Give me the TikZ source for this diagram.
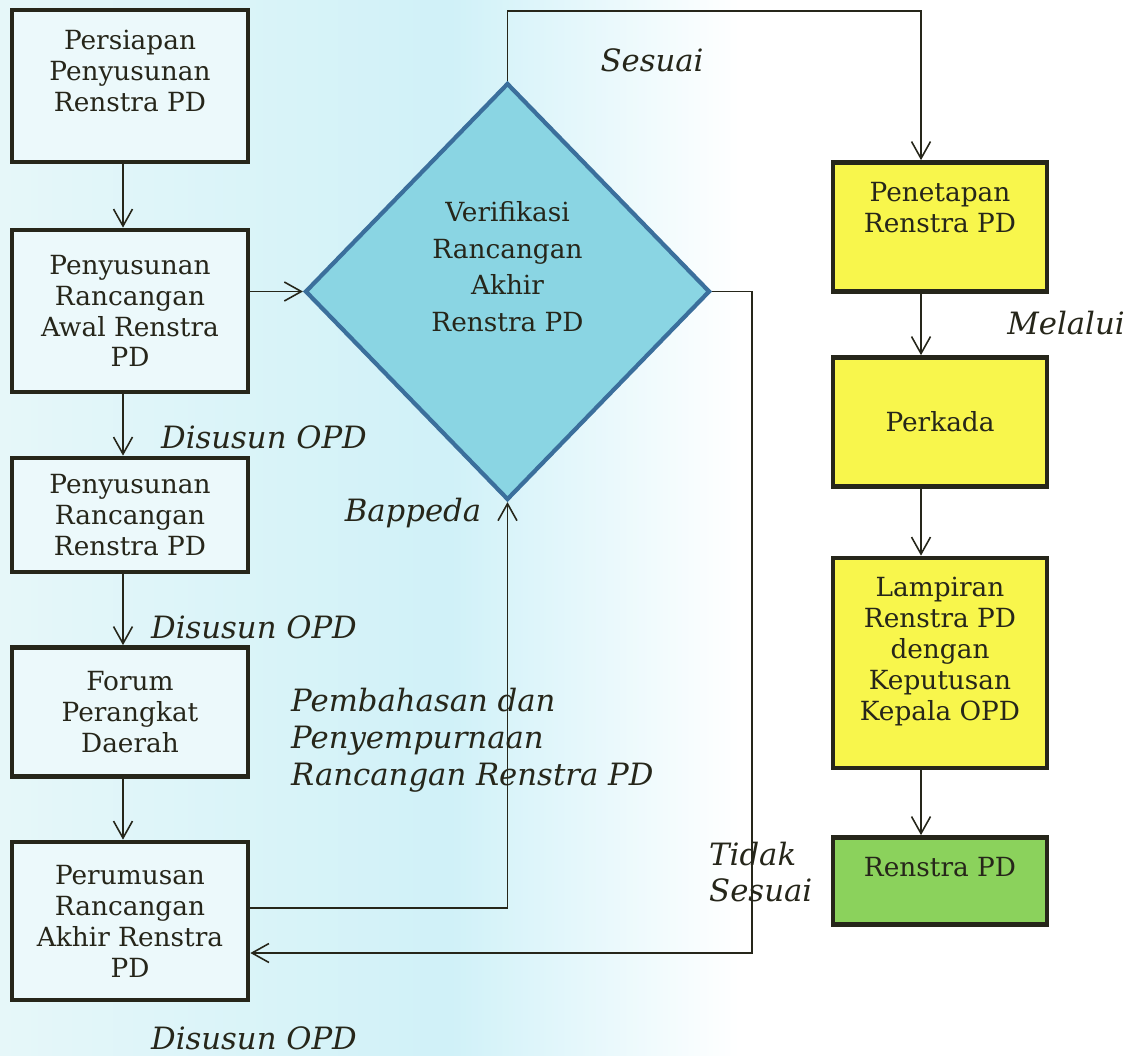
\documentclass[tikz,border=0pt]{standalone}
\usepackage{fontspec}
\setmainfont{DejaVu Serif}
\usetikzlibrary{shapes.geometric,arrows.meta}

\definecolor{ink}{HTML}{26261A}
\definecolor{bgL}{HTML}{E6F7F9}
\definecolor{bgM}{HTML}{D0F1F8}
\definecolor{boxfill}{HTML}{ECF9FB}
\definecolor{diafill}{HTML}{8AD5E3}
\definecolor{diadraw}{HTML}{3B6F9C}
\definecolor{kuning}{HTML}{F8F64C}
\definecolor{hijau}{HTML}{8BD25C}

\tikzset{
  box/.style={draw=ink, line width=2.7pt, fill=boxfill, text=ink, align=center,
    minimum width=4.72cm, inner sep=2pt, font=\fontsize{15}{17.6}\selectfont},
  rbox/.style={box, fill=kuning, minimum width=4.28cm},
  verif/.style={diamond, draw=diadraw, line width=2.4pt, fill=diafill, text=ink,
    align=center, inner sep=0pt, minimum width=8.1cm, minimum height=8.34cm,
    font=\fontsize{15}{21}\selectfont},
  ket/.style={text=ink, font=\fontsize{17.5}{21}\selectfont\itshape},
  flow/.style={draw=ink, line width=0.9pt},
  >={Straight Barb[length=3.4mm,width=3.8mm]}
}

\begin{document}
\begin{tikzpicture}[x=0.02cm, y=-0.02cm]
\useasboundingbox (0,0) rectangle (1139,1055);
% background
\shade[left color=bgL, right color=bgM] (0,0) rectangle (450,1055);
\shade[left color=bgM, right color=white] (450,0) rectangle (740,1055);

% Left column
\node[box, minimum height=3.04cm, text depth=0.62cm] at (130,86) (persiapan)
{Persiapan\\Penyusunan\\Renstra PD};
\node[box, minimum height=3.24cm] at (130,311) (awal)
{Penyusunan\\Rancangan\\Awal Renstra\\PD};
\node[box, minimum height=2.28cm] at (130,515) (rancangan)
{Penyusunan\\Rancangan\\Renstra PD};
\node[box, minimum height=2.58cm] at (130,712) (forum)
{Forum\\Perangkat\\Daerah};
\node[box, minimum height=3.16cm] at (130,921) (akhir)
{Perumusan\\Rancangan\\Akhir Renstra\\PD};

\draw[flow, ->] ([xshift=-0.14cm]persiapan.south) -- ([xshift=-0.14cm]awal.north);
\draw[flow, ->] ([xshift=-0.14cm]awal.south) -- ([xshift=-0.14cm]rancangan.north);
\draw[flow, ->] ([xshift=-0.14cm]rancangan.south) -- ([xshift=-0.14cm]forum.north);
\draw[flow, ->] ([xshift=-0.14cm]forum.south) -- ([xshift=-0.14cm]akhir.north);

\node[ket] at (264,437) (opd1) {Disusun OPD};
\node[ket] at (254,627) (opd2) {Disusun OPD};
\node[ket] at (254,1038) (opd3) {Disusun OPD};

% Verifikasi
\node[verif, text depth=1.0cm] at (507.5,291.5) (verifikasi)
{Verifikasi\\Rancangan\\Akhir\\Renstra PD};

\draw[flow, ->] (awal.east |- verifikasi.west) -- (verifikasi.west);

\node[ket, align=left, anchor=west] at (285,740) (bahas)
{Pembahasan dan\\Penyempurnaan\\Rancangan Renstra PD};
\node[ket] at (413,513) (bappeda) {Bappeda};
\draw[flow, ->] ([yshift=0.26cm]akhir.east) -| (verifikasi.south);

\node[ket, align=left, anchor=west] at (703,872) (tidak) {Tidak\\Sesuai};
\draw[flow, ->] (verifikasi.east) -- ++(40,0) |- ([yshift=-0.64cm]akhir.east);

% Right column
\node[rbox, minimum height=2.58cm, text depth=0.8cm] at (940,227) (penetapan)
{Penetapan\\Renstra PD};
\node[rbox, minimum height=2.58cm] at (940,422) (perkada) {Perkada};
\node[rbox, minimum height=4.2cm, text depth=0.58cm] at (940,663) (lampiran)
{Lampiran\\Renstra PD\\dengan\\Keputusan\\Kepala OPD};
\node[rbox, fill=hijau, minimum height=1.74cm, text depth=0.55cm] at (940,881) (renstra)
{Renstra PD};

\node[ket] at (652,60) (sesuai) {Sesuai};
\draw[flow, ->] (verifikasi.north) -- ++(0,-70) -| ([xshift=-0.38cm]penetapan.north);

\node[ket] at (1066,323) (melalui) {Melalui};
\draw[flow, ->] ([xshift=-0.38cm]penetapan.south) -- ([xshift=-0.38cm]perkada.north);
\draw[flow, ->] ([xshift=-0.38cm]perkada.south) -- ([xshift=-0.38cm]lampiran.north);
\draw[flow, ->] ([xshift=-0.38cm]lampiran.south) -- ([xshift=-0.38cm]renstra.north);
\end{tikzpicture}
\end{document}
